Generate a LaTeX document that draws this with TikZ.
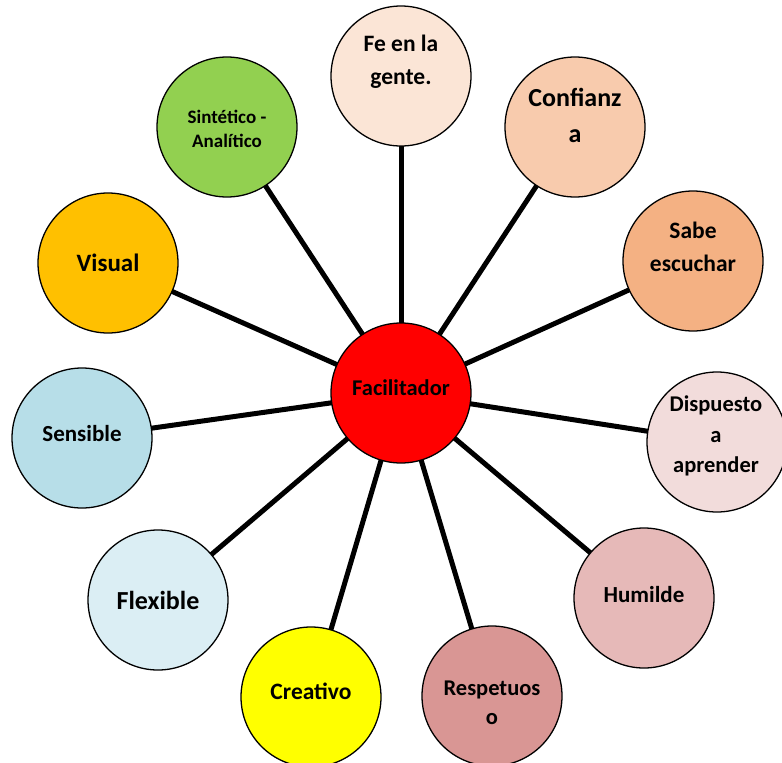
\documentclass[tikz,border=0pt]{standalone}
\usepackage{fontspec}
\setmainfont{Carlito}
\usetikzlibrary{backgrounds}
\definecolor{cfe}{HTML}{FBE5D6}
\definecolor{cconf}{HTML}{F8CBAD}
\definecolor{csabe}{HTML}{F4B183}
\definecolor{cdisp}{HTML}{F2DCDB}
\definecolor{chum}{HTML}{E6B9B8}
\definecolor{cresp}{HTML}{D99694}
\definecolor{ccrea}{HTML}{FFFF00}
\definecolor{cflex}{HTML}{DBEEF4}
\definecolor{csens}{HTML}{B7DEE8}
\definecolor{cvis}{HTML}{FFC000}
\definecolor{csint}{HTML}{92D050}
\definecolor{cfac}{HTML}{FF0000}
\begin{document}
\begin{tikzpicture}[x=1pt,y=-1pt,
  bub/.style={circle,draw=black,line width=1.3pt,minimum size=140pt,inner sep=0pt},
  lbl/.style={align=center,inner sep=0pt,font=\bfseries\fontsize{23}{33}\selectfont},
  conn/.style={line width=5pt}]
\useasboundingbox (0,0) rectangle (782,763);
\clip (0,0) rectangle (782,763);
% circles
\node[bub,fill=cfac] (c) at (401,393) {};
\node[bub,fill=cfe] (fe) at (401,76) {};
\node[bub,fill=cconf] (conf) at (575,127) {};
\node[bub,fill=csabe] (sabe) at (693,261) {};
\node[bub,fill=cdisp] (disp) at (717,442) {};
\node[bub,fill=chum] (hum) at (644,598) {};
\node[bub,fill=cresp] (resp) at (492,696) {};
\node[bub,fill=ccrea] (crea) at (311,697) {};
\node[bub,fill=cflex] (flex) at (158,600) {};
\node[bub,fill=csens] (sens) at (82,438) {};
\node[bub,fill=cvis] (vis) at (108,263) {};
\node[bub,fill=csint] (sint) at (227,127) {};
% connectors
\begin{pgfonlayer}{background}
\foreach \n in {fe,conf,sabe,disp,hum,resp,crea,flex,sens,vis,sint}
  \draw[conn] (c.center) -- (\n.center);
\end{pgfonlayer}
% labels
\node[lbl,font=\bfseries\fontsize{22.5}{26}\selectfont] (c-t) at (401,388) {Facilitador};
\node[lbl,font=\bfseries\fontsize{23.5}{33}\selectfont] (fe-t) at (401,62) {Fe en la\\gente.};
\node[lbl,font=\bfseries\fontsize{26}{36}\selectfont] (conf-t) at (575,115) {Confianz\\a};
\node[lbl,font=\bfseries\fontsize{23.5}{33}\selectfont] (sabe-t) at (693,247) {Sabe\\escuchar};
\node[lbl,font=\bfseries\fontsize{22.5}{30.5}\selectfont] (disp-t) at (716,436) {Dispuesto\\a\\aprender};
\node[lbl] (hum-t) at (644,595) {Humilde};
\node[lbl,font=\bfseries\fontsize{22.5}{29}\selectfont] (resp-t) at (492,703) {Respetuos\\o};
\node[lbl,font=\bfseries\fontsize{23.5}{33}\selectfont] (crea-t) at (311,691) {Creativo};
\node[lbl,font=\bfseries\fontsize{26}{33}\selectfont] (flex-t) at (158,600) {Flexible};
\node[lbl] (sens-t) at (82,434) {Sensible};
\node[lbl,font=\bfseries\fontsize{25}{30}\selectfont] (vis-t) at (108,263) {Visual};
\node[lbl,font=\bfseries\fontsize{19}{24}\selectfont] (sint-t) at (227,129) {Sintético -\\Analítico};
\end{tikzpicture}
\end{document}
